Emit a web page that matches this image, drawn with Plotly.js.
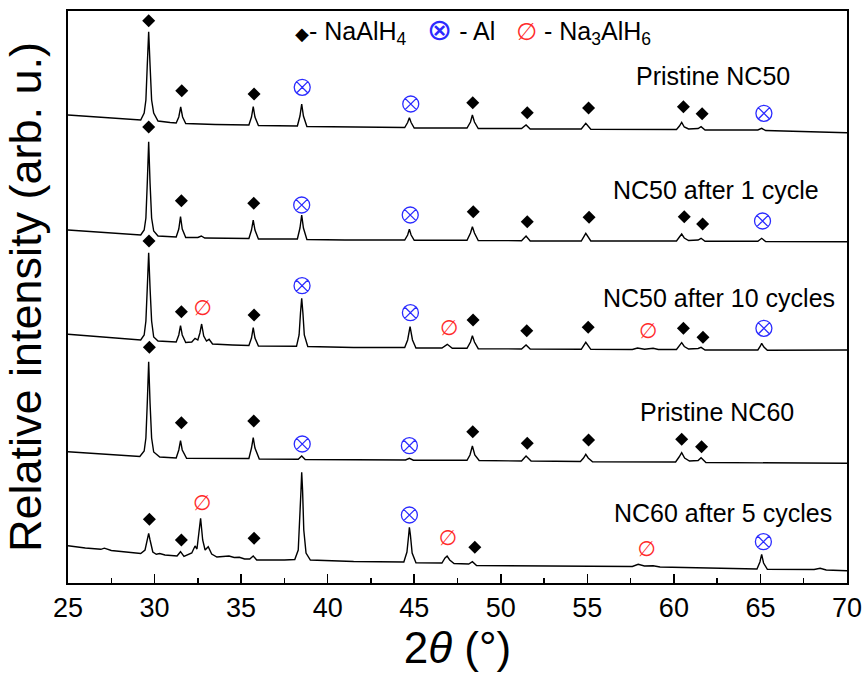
<!DOCTYPE html>
<html><head><meta charset="utf-8">
<script src="https://cdn.plot.ly/plotly-3.0.1.min.js"></script>
<style>html,body{margin:0;padding:0;background:#fff;}#chart{width:866px;height:676px;}</style>
</head><body><div id="chart"></div>
<script>
// ---- data (2θ in degrees, intensity in arbitrary stacked units) ----
const sampleLabels = ["Pristine NC50", "NC50 after 1 cycle", "NC50 after 10 cycles", "Pristine NC60", "NC60 after 5 cycles"];

const p50x = [25, 29.0, 29.2, 29.4, 29.5, 29.58, 29.66, 29.74, 29.83, 29.95, 30.2, 30.9, 31.25, 31.4, 31.51, 31.62, 31.8, 33.5, 35.45, 35.6, 35.7, 35.8, 36.0, 38.25, 38.4, 38.5, 38.6, 38.8, 41.0, 44.45, 44.62, 44.72, 44.82, 45.0, 48.05, 48.25, 48.36, 48.48, 48.7, 51.2, 51.46, 51.7, 54.65, 54.91, 55.2, 60.15, 60.32, 60.45, 60.6, 60.85, 61.4, 61.57, 61.8, 64.85, 65.07, 65.3, 70];
const p50y = [468, 463.5, 463, 470, 483, 518, 551.3, 518, 483, 470, 462, 460.5, 460, 466, 476, 466, 459.5, 458.5, 458, 466, 476.3, 466, 457.5, 457, 467, 479, 467, 456.5, 456, 455.5, 460.5, 465.3, 460.5, 455, 455, 461, 468, 461, 454.5, 454.5, 458, 454, 454, 459.7, 453.7, 453.5, 457, 460.7, 456, 454, 454.5, 456.3, 453, 453, 454.7, 452.5, 450.3];

const c1x = [25, 29.0, 29.2, 29.4, 29.5, 29.58, 29.66, 29.74, 29.83, 29.95, 30.2, 31.25, 31.4, 31.5, 31.6, 31.8, 32.5, 32.7, 32.9, 35.45, 35.6, 35.7, 35.8, 36.0, 38.25, 38.4, 38.5, 38.6, 38.8, 41.0, 44.45, 44.62, 44.72, 44.82, 45.0, 48.05, 48.25, 48.36, 48.48, 48.7, 51.2, 51.46, 51.7, 54.65, 54.91, 55.2, 60.15, 60.32, 60.45, 60.6, 60.85, 61.4, 61.57, 61.8, 64.85, 65.07, 65.3, 70];
const c1y = [353, 348.5, 348, 353, 365, 400, 441.3, 400, 365, 352, 347, 346, 354, 366.3, 354, 345.5, 345.5, 347, 345, 344.5, 353, 363, 353, 344, 344, 355, 368, 355, 343.5, 343, 343, 348, 353.7, 348, 342.7, 342.7, 350, 356.3, 350, 342.5, 342.3, 347, 342, 342, 349.7, 342, 342, 346, 349, 345, 342.5, 343, 344.7, 341.7, 341.7, 344.7, 341.5, 341.3];

const c10x = [25, 29.0, 29.2, 29.4, 29.5, 29.58, 29.66, 29.74, 29.83, 29.95, 30.2, 31.25, 31.4, 31.5, 31.6, 31.8, 32.15, 32.34, 32.5, 32.62, 32.72, 32.84, 33.0, 33.15, 33.35, 34.5, 35.45, 35.6, 35.7, 35.8, 36.0, 38.2, 38.35, 38.43, 38.5, 38.57, 38.65, 38.85, 41.5, 44.45, 44.62, 44.76, 44.9, 45.1, 46.6, 46.91, 47.2, 48.05, 48.25, 48.36, 48.48, 48.7, 51.2, 51.46, 51.7, 54.65, 54.91, 55.2, 57.6, 57.9, 58.3, 58.8, 59.1, 60.15, 60.32, 60.45, 60.6, 60.85, 61.4, 61.57, 61.8, 64.85, 65.0, 65.07, 65.2, 65.4, 70];
const c10y = [248.7, 243.5, 243, 248, 262, 295, 330.3, 295, 262, 246, 242, 241, 248, 257.3, 248, 240.5, 241, 244.7, 243, 250, 259, 247, 242, 243.7, 239, 238, 237.5, 245, 255.3, 245, 237, 236.7, 248, 270, 284.7, 270, 248, 236.5, 235.5, 235.5, 243, 256.3, 243, 235, 235, 238.7, 234.7, 234.7, 241, 247.3, 241, 234.3, 234, 238, 234, 233.7, 240.7, 233.7, 233.5, 235, 233.7, 234.7, 233.5, 233.5, 237, 240.3, 236.5, 234, 234.5, 235.7, 233, 233, 237, 239.7, 236, 232.7, 233];

const n60x = [25, 29.0, 29.15, 29.4, 29.5, 29.58, 29.66, 29.74, 29.83, 29.95, 30.3, 31.25, 31.4, 31.5, 31.6, 31.85, 35.45, 35.6, 35.7, 35.8, 36.05, 38.3, 38.5, 38.7, 44.5, 44.72, 44.95, 48.05, 48.22, 48.36, 48.5, 48.75, 51.2, 51.46, 51.75, 54.6, 54.78, 54.91, 55.05, 55.3, 60.1, 60.3, 60.45, 60.62, 60.9, 61.4, 61.57, 61.85, 70];
const n60y = [131.3, 127, 126.5, 132, 145, 180, 221.3, 180, 145, 131, 126, 125, 133, 142.3, 133, 124.7, 124.5, 135, 145.3, 135, 124, 123.7, 127, 123.5, 123, 124.7, 122.8, 122.7, 128, 137, 128, 122.5, 122, 127, 122, 121.5, 125, 128.7, 125, 121.3, 121, 126, 130.3, 125, 122, 122.5, 125.3, 120.5, 119.7];

const c5x = [25, 26.0, 26.9, 27.1, 27.5, 28.5, 29.2, 29.45, 29.58, 29.66, 29.74, 29.9, 30.1, 30.3, 30.6, 31.3, 31.5, 31.7, 32.15, 32.34, 32.45, 32.55, 32.66, 32.78, 32.92, 33.1, 33.3, 33.6, 34.3, 34.6, 34.9, 35.2, 35.5, 35.7, 35.9, 37.5, 38.1, 38.3, 38.4, 38.46, 38.5, 38.55, 38.62, 38.75, 39.0, 41.5, 44.4, 44.58, 44.68, 44.72, 44.78, 44.88, 45.1, 46.6, 46.78, 46.9, 47.05, 47.3, 48.15, 48.36, 48.6, 51.5, 57.6, 57.94, 58.3, 58.8, 59.2, 64.8, 64.97, 65.07, 65.18, 65.4, 68.1, 68.45, 68.8, 70];
const c5y = [37.3, 35, 33.7, 34.8, 32.5, 30.5, 29.5, 33, 43, 49.7, 43, 31, 28.7, 29.5, 28, 27, 31.3, 26.5, 30, 37, 34, 48, 64.7, 43, 33, 36.3, 29, 26, 27, 25.5, 25.7, 24, 24, 27, 23, 23, 23.5, 33, 63, 93, 110.7, 93, 53, 30, 23, 21.5, 21, 31, 48, 55.7, 48, 30, 20.3, 20, 25, 27, 23, 19.5, 19, 21.3, 17.5, 17, 16.5, 18.7, 17, 17.3, 16, 14, 21, 28.7, 20, 13.7, 13.5, 14.7, 13, 12.3];

// phase markers (peak assignments)
const naalh4X = [29.66, 31.57, 35.75, 48.38, 51.53, 55.07, 60.55, 61.63,
                 29.66, 31.55, 35.73, 48.41, 51.53, 55.1, 60.6, 61.66,
                 29.68, 31.55, 35.75, 48.4, 51.5, 55.05, 60.55, 61.68,
                 29.7, 31.55, 35.73, 48.38, 51.53, 55.07, 60.45, 61.6,
                 29.7, 31.55, 35.75, 48.5];
const naalh4Y = [562.3, 492.3, 489, 480.3, 470.3, 475, 476.3, 469.3,
                 456, 382.3, 379.7, 371.3, 361.3, 365.7, 366.3, 359,
                 342, 271.3, 268, 263, 252.3, 255.7, 254.7, 245.7,
                 235.7, 160.3, 162, 151.3, 139.7, 143, 143.7, 136.3,
                 63.7, 43, 44.7, 35.7];
const alX = [38.53, 44.8, 65.2, 38.5, 44.77, 65.12, 38.52, 44.78, 65.2, 38.53, 44.72, 44.72, 65.17];
const alY = [495.7, 479, 469.7, 378, 368, 362, 297.3, 270.3, 254.7, 139, 137.3, 68, 41.3];
const na3X = [32.78, 47.02, 58.52, 32.75, 46.95, 58.43];
const na3Y = [273.7, 253.7, 250.3, 78, 43, 32.3];

const labelX = [62.24, 62.44, 62.63, 62.48, 62.82];
const labelY = [507, 393, 284.7, 171.3, 69.7];

// ---- styling ----
const FONT = "Liberation Sans, Arial, Helvetica, sans-serif";
const NARROW = "Liberation Sans Narrow, Arial Narrow, Liberation Sans, Arial, sans-serif";
const BLUE = "#2b2bff", RED = "#ff2b2b";

const curves = [[p50x, p50y], [c1x, c1y], [c10x, c10y], [n60x, n60y], [c5x, c5y]];
const traces = curves.map((c, i) => ({
  x: c[0], y: c[1], type: "scatter", mode: "lines", name: sampleLabels[i],
  line: {color: "#000", width: 1.4}, hoverinfo: "skip", showlegend: false
}));
traces.push({x: naalh4X, y: naalh4Y, type: "scatter", mode: "markers", name: "NaAlH4",
  marker: {symbol: "diamond", size: 10, color: "#000"}, showlegend: false});
traces.push({x: alX, y: alY, type: "scatter", mode: "markers", name: "Al",
  marker: {symbol: "circle-x-open", size: 16, color: BLUE, line: {color: BLUE, width: 1.3}}, showlegend: false});
traces.push({x: na3X, y: na3Y, type: "scatter", mode: "text", name: "Na3AlH6",
  text: na3X.map(() => "∅"), textposition: "middle center",
  textfont: {family: "DejaVu Sans", size: 21, color: RED}, showlegend: false});

const annotations = sampleLabels.map((t, i) => ({
  x: labelX[i], y: labelY[i], xref: "x", yref: "y", text: t, showarrow: false,
  font: {family: FONT, size: 25, color: "#000"}, xanchor: "center", yanchor: "middle"
}));
annotations.push({
  x: 48.4, y: 553, xref: "x", yref: "y", showarrow: false, xanchor: "center", yanchor: "middle",
  font: {family: FONT, size: 25, color: "#000"},
  text: '<span style="font-size:18px">◆</span>- NaAlH<sub>4</sub>   <span style="color:' + BLUE + ';font-family:DejaVu Sans;font-size:30px">⊗</span> - Al   <span style="color:' + RED + ';font-family:DejaVu Sans;font-size:24px">∅</span> - Na<sub>3</sub>AlH<sub>6</sub>'
});

const layout = {
  width: 866, height: 676,
  margin: {l: 68, r: 19, t: 11, b: 93},
  paper_bgcolor: "#fff", plot_bgcolor: "#fff",
  font: {family: FONT, color: "#000"},
  xaxis: {
    range: [25, 70], tick0: 25, dtick: 5, ticks: "inside", ticklen: 9, tickwidth: 1.5, tickcolor: "#000",
    minor: {ticks: "inside", dtick: 2.5, ticklen: 5, tickwidth: 1.5, tickcolor: "#000"},
    showline: true, linewidth: 2, linecolor: "#000", mirror: true,
    showgrid: false, zeroline: false,
    tickfont: {family: NARROW, size: 27, color: "#000"},
    title: {text: "2<i>θ</i> (°)", font: {family: FONT, size: 44, color: "#000"}, standoff: 8}
  },
  yaxis: {
    range: [0, 572], showline: true, linewidth: 2, linecolor: "#000", mirror: true,
    ticks: "", showticklabels: false, showgrid: false, zeroline: false,
    title: {text: "Relative intensity (arb. u.)", font: {family: FONT, size: 45, color: "#000"}, standoff: 10}
  },
  annotations: annotations,
  showlegend: false
};

Plotly.newPlot("chart", traces, layout, {displayModeBar: false, staticPlot: true});
</script>
</body></html>
